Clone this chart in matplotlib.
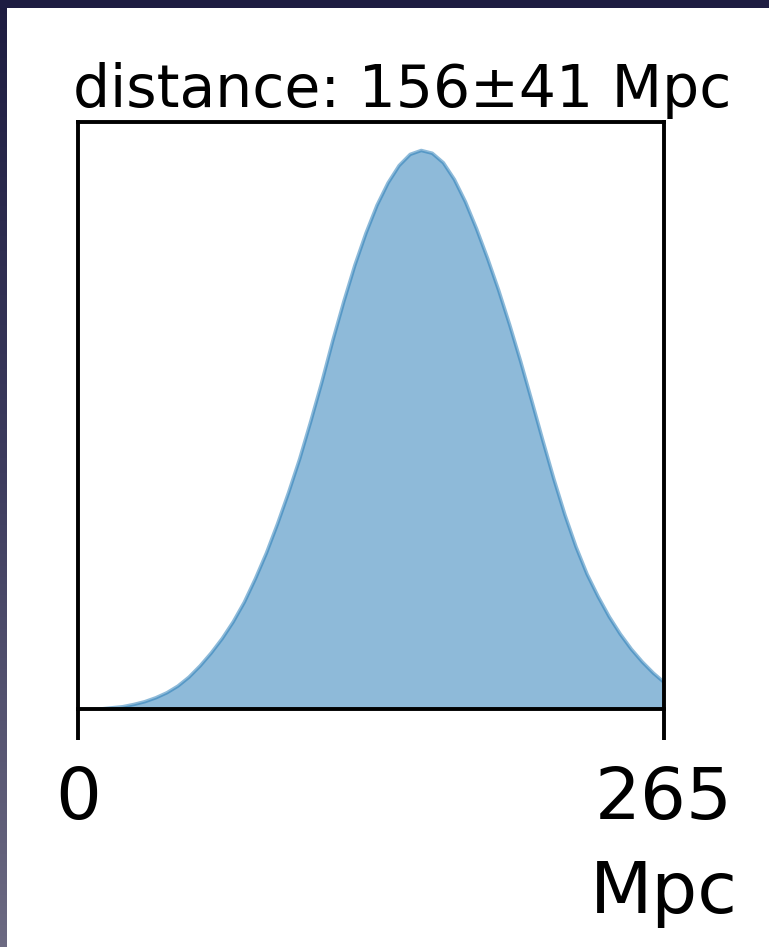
import numpy as np
import matplotlib
matplotlib.use("Agg")
import matplotlib.pyplot as plt
from matplotlib.colors import LinearSegmentedColormap
from matplotlib.patches import Rectangle

# Posterior distance density (relative to its peak), sampled every 5 Mpc
distance_mpc = [0, 5, 10, 15, 20, 25, 30, 35, 40, 45, 50, 55, 60, 65, 70, 75,
                80, 85, 90, 95, 100, 105, 110, 115, 120, 125, 130, 135, 140,
                145, 150, 155, 160, 165, 170, 175, 180, 185, 190, 195, 200,
                205, 210, 215, 220, 225, 230, 235, 240, 245, 250, 255, 260, 265]
density = [0.0, 0.0003, 0.001, 0.003, 0.005, 0.009, 0.014, 0.021, 0.030,
           0.042, 0.058, 0.078, 0.101, 0.127, 0.157, 0.192, 0.234, 0.280,
           0.332, 0.388, 0.448, 0.515, 0.585, 0.660, 0.730, 0.795, 0.852,
           0.902, 0.942, 0.973, 0.993, 1.000, 0.995, 0.978, 0.948, 0.908,
           0.860, 0.807, 0.750, 0.688, 0.622, 0.552, 0.481, 0.412, 0.348,
           0.291, 0.242, 0.202, 0.166, 0.135, 0.108, 0.085, 0.065, 0.048]

tick_values = [0, 265]
tick_labels = ["0", "265"]
title_text = "distance: 156\u00b141 Mpc"
unit_label = "Mpc"

W, H = 769, 947
fig = plt.figure(figsize=(W / 100, H / 100), dpi=100)
fig.patch.set_facecolor("white")

# dark frame: gradient strip on the left, flat band on top
edge_ax = fig.add_axes([0, 0, 7 / W, 1])
grad = np.linspace(0, 1, 256).reshape(-1, 1)
cmap = LinearSegmentedColormap.from_list("edge", ["#1d1c40", "#3d3c5e", "#6c6a82"])
edge_ax.imshow(grad, aspect="auto", cmap=cmap, origin="upper")
edge_ax.set_axis_off()
fig.patches.append(Rectangle((0, 1 - 8 / H), 1, 8 / H, transform=fig.transFigure,
                             facecolor="#1e1d42", edgecolor="none", zorder=5))

ax = fig.add_axes([78 / W, 1 - 709 / H, 586 / W, 587 / H])
ax.fill_between(distance_mpc, density, color="C0", alpha=0.5, linewidth=2.5)
ax.set_xlim(tick_values[0], tick_values[-1])
ax.set_ylim(0, max(density) * 1.05)

for sp in ax.spines.values():
    sp.set_linewidth(2.8)
    sp.set_color("black")

ax.set_yticks([])
ax.set_xticks(tick_values)
ax.set_xticklabels(tick_labels, fontsize=52)
ax.tick_params(axis="x", direction="out", length=22, width=2.8, pad=18)

ax.set_xlabel(unit_label, fontsize=52)
ax.xaxis.set_label_coords(1.0, -0.255)

fig.text(402 / W, 1 - 107 / H, title_text, fontsize=42, ha="center", va="baseline")

fig.savefig("out.png", dpi=100)
